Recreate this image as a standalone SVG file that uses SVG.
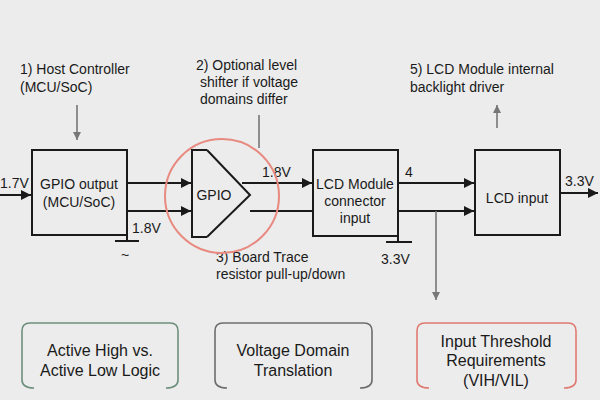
<svg xmlns="http://www.w3.org/2000/svg" width="600" height="400" viewBox="0 0 600 400">
<style>
text{font-family:"Liberation Sans",Arial,sans-serif;font-size:14px;fill:#1a1a1a}
.t{font-size:16px}
.b{fill:none;stroke:#1a1a1a;stroke-width:2}
.l{fill:none;stroke:#1a1a1a;stroke-width:2}
.g{fill:none;stroke:#777;stroke-width:1.6}
.m{text-anchor:middle}
</style>
<defs>
<marker id="a" viewBox="0 0 10 10" refX="10" refY="5" markerWidth="5" markerHeight="5" orient="auto"><path d="M0,0L10,5L0,10z" fill="#1a1a1a"/></marker>
<marker id="ga" viewBox="0 0 10 10" refX="10" refY="5" markerWidth="5" markerHeight="5" orient="auto"><path d="M0,0L10,5L0,10z" fill="#777"/></marker>
</defs>
<rect width="600" height="400" fill="#ececec"/>
<g id="labels">
<text x="20" y="74">1) Host Controller</text><text x="20" y="92">(MCU/SoC)</text>
<text x="196" y="70">2) Optional level</text><text x="200" y="87">shifter if voltage</text><text x="200" y="104">domains differ</text>
<text x="410" y="74">5) LCD Module internal</text><text x="410" y="92">backlight driver</text>
<text x="216" y="262">3) Board Trace</text><text x="216" y="279">resistor pull-up/down</text>
</g>
<g id="connectors">
<line class="l" x1="0" y1="195" x2="31" y2="195" marker-end="url(#a)"/>
<text x="0" y="188">1.7V</text>
<line class="l" x1="127" y1="183" x2="191" y2="183" marker-end="url(#a)"/>
<polyline class="l" points="127,240 127,211 191,211" marker-end="url(#a)"/>
<line class="l" x1="115" y1="241" x2="139" y2="241"/>
<text x="121" y="260">~</text>
<text x="132" y="233">1.8V</text>
<line class="l" x1="242" y1="183" x2="312" y2="183" marker-end="url(#a)"/>
<line class="l" x1="250" y1="211" x2="313" y2="211"/>
<text x="262" y="177">1.8V</text>
<line class="l" x1="398" y1="183" x2="474" y2="183" marker-end="url(#a)"/>
<polyline class="l" points="398,242 398,211 474,211" marker-end="url(#a)"/>
<line class="l" x1="386" y1="242" x2="412" y2="242"/>
<text x="381" y="264">3.3V</text>
<text x="405" y="177">4</text>
<line class="l" x1="560" y1="193" x2="598" y2="193" marker-end="url(#a)"/>
<text x="565" y="186">3.3V</text>
<line class="g" x1="436" y1="211" x2="436" y2="300" marker-end="url(#ga)"/>
<line class="g" x1="77" y1="105" x2="77" y2="140" marker-end="url(#ga)"/>
<line class="g" x1="259" y1="115" x2="259" y2="148"/>
<line class="g" x1="497" y1="128" x2="497" y2="105" marker-end="url(#ga)"/>
</g>
<g id="gpio-out"><rect class="b" x="32" y="150" width="95" height="85" fill="none"/>
<text class="m" x="79" y="189">GPIO output</text><text class="m" x="79" y="207">(MCU/SoC)</text></g>
<g id="shifter">
<circle cx="222" cy="196" r="57" fill="none" stroke="#e88a80" stroke-width="2"/>
<polyline class="b" points="207,150 192,150 192,237 207,237"/>
<polyline class="b" points="207,150 250,195 207,237"/>
<text class="m" x="214" y="200">GPIO</text></g>
<g id="lcd-conn"><rect class="b" x="313" y="150" width="85" height="86"/>
<text class="m" x="355" y="189">LCD Module</text><text class="m" x="355" y="206">connector</text><text class="m" x="355" y="223">input</text></g>
<g id="lcd-in"><rect class="b" x="475" y="150" width="85" height="85"/>
<text class="m" x="517" y="203">LCD input</text></g>
<g id="box-green"><path d="M30,323 H170 Q178,323 178,331 V380 Q178,388 166,388 M30,323 Q22,323 22,331 V380 Q22,388 34,388" fill="none" stroke="#6e8f7c" stroke-width="1.6"/>
<text class="m t" x="100" y="356">Active High vs.</text><text class="m t" x="100" y="376">Active Low Logic</text></g>
<g id="box-gray"><path d="M223,323 H364 Q372,323 372,331 V380 Q372,388 360,388 M223,323 Q215,323 215,331 V380 Q215,388 227,388" fill="none" stroke="#6d6d6d" stroke-width="1.6"/>
<text class="m t" x="293" y="356">Voltage Domain</text><text class="m t" x="293" y="376">Translation</text></g>
<g id="box-red"><path d="M425,323 H568 Q576,323 576,331 V380 Q576,388 564,388 M425,323 Q417,323 417,331 V380 Q417,388 429,388" fill="none" stroke="#e07a70" stroke-width="1.6"/>
<text class="m t" x="496" y="347">Input Threshold</text><text class="m t" x="496" y="366">Requirements</text><text class="m t" x="496" y="386">(VIH/VIL)</text></g>
</svg>
